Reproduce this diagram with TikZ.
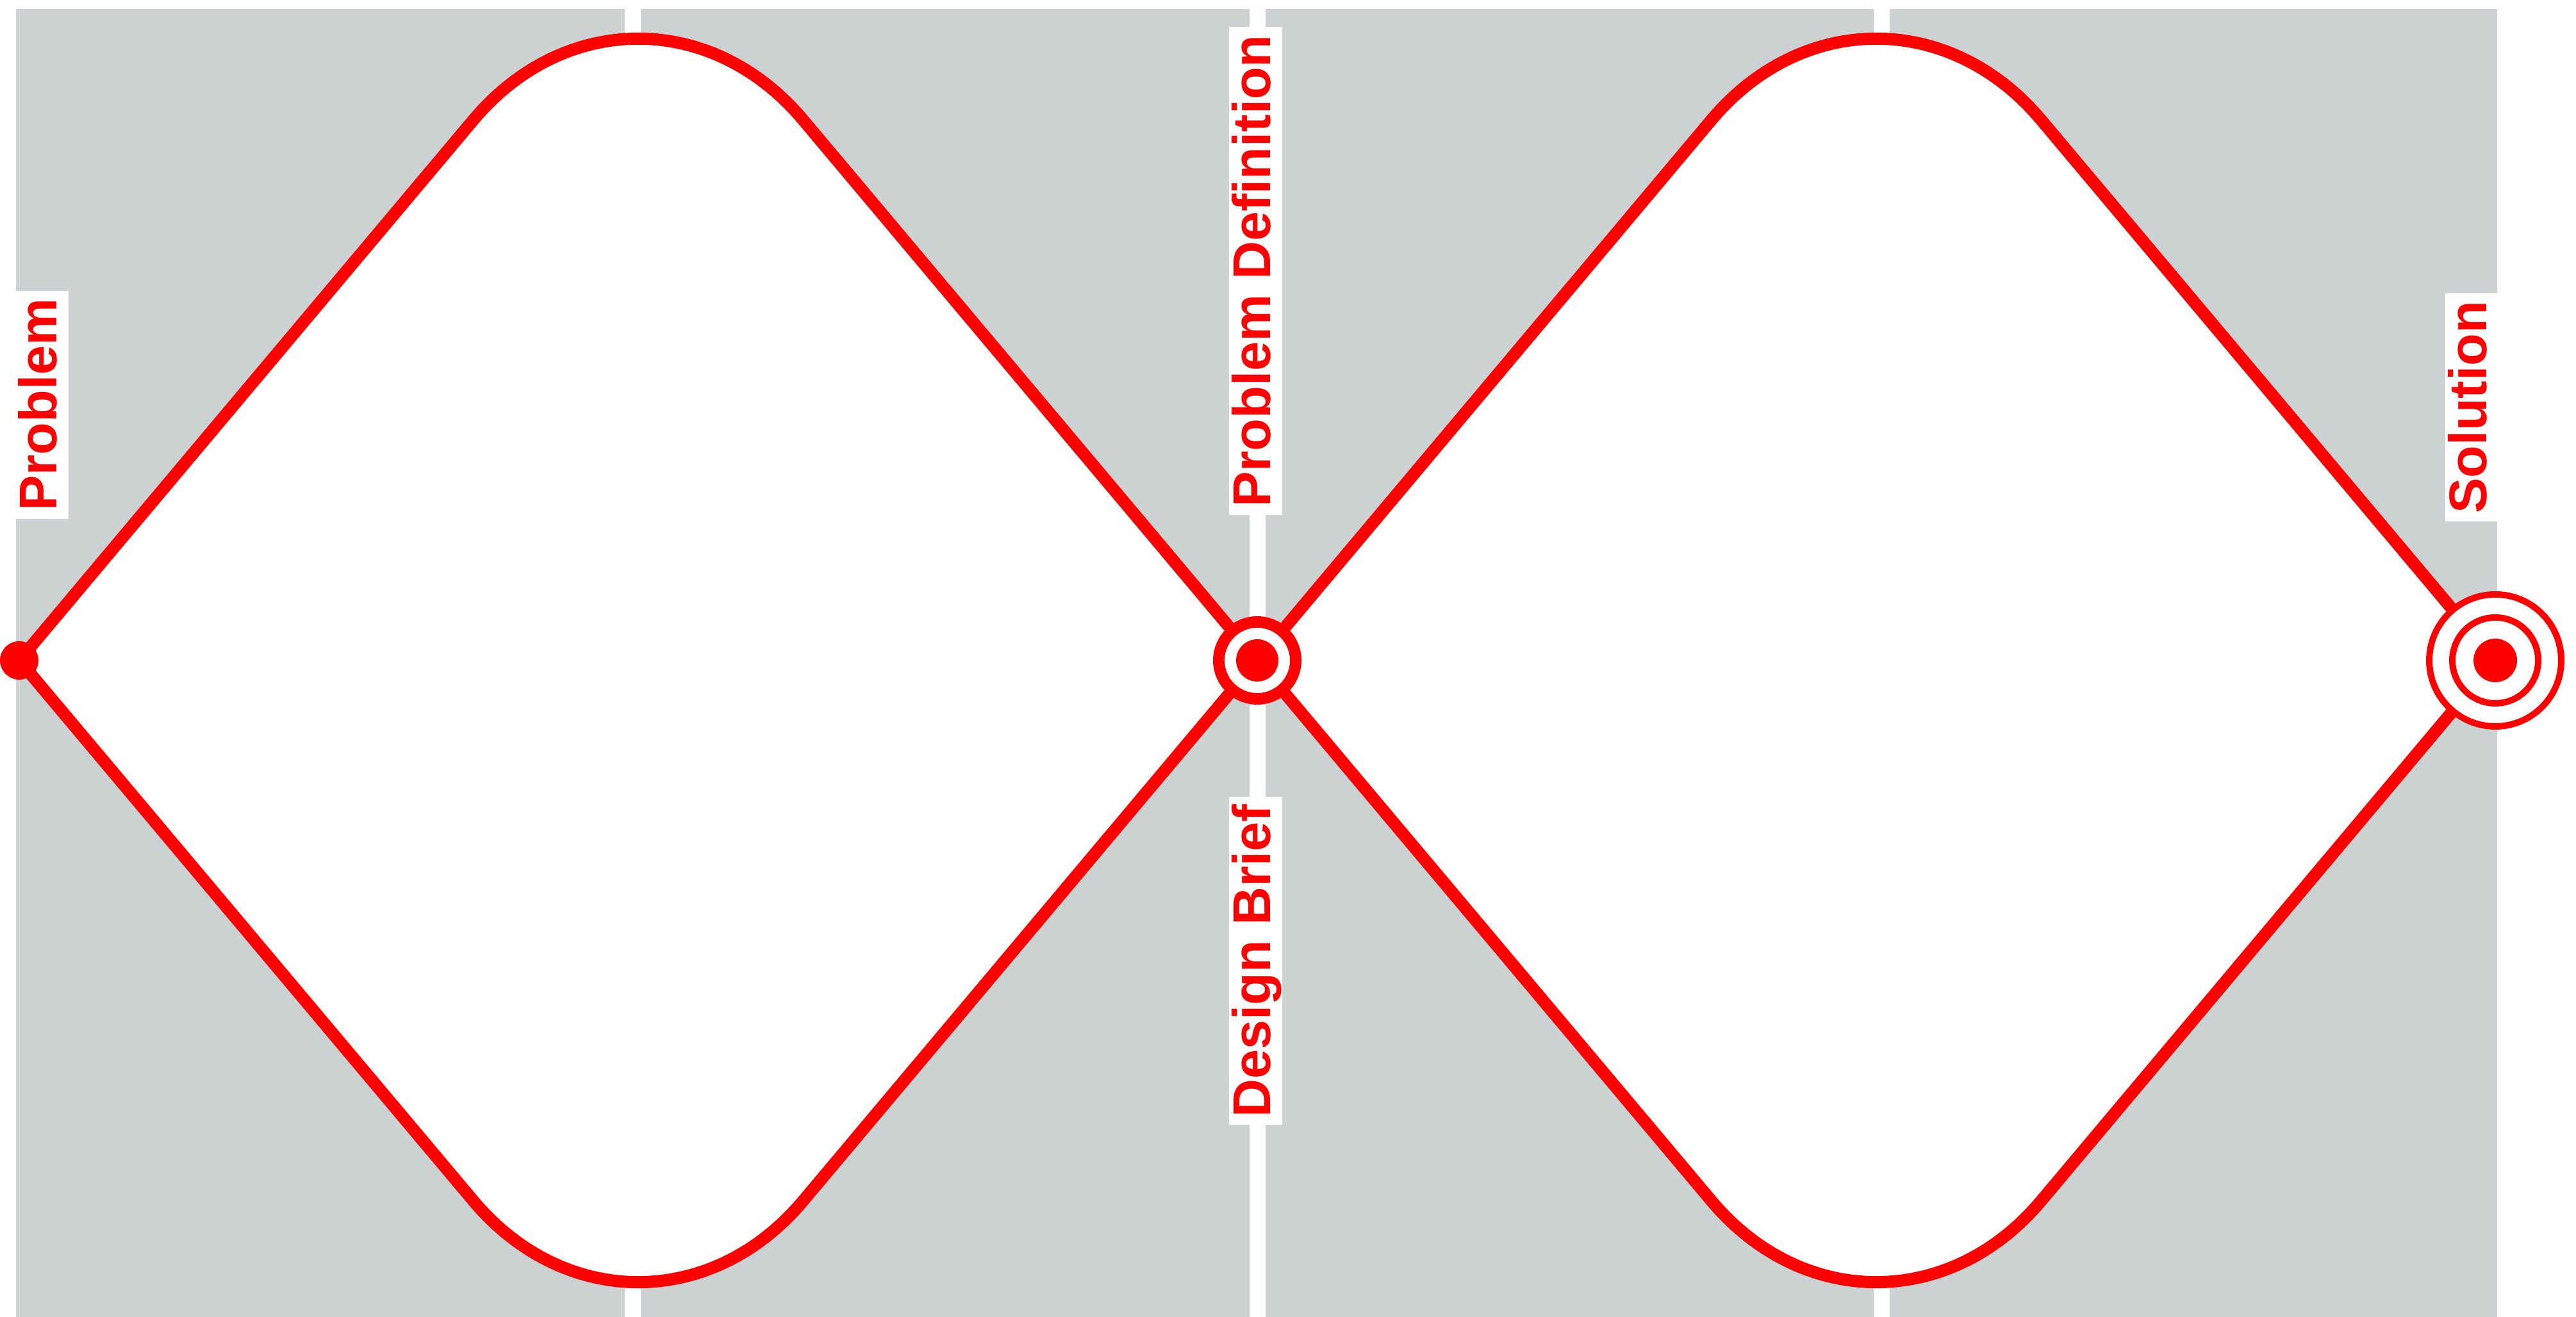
\documentclass[tikz,border=0pt]{standalone}
\usepackage{fontspec}
\newfontfamily\labelfont{Liberation Sans}
\usepackage{tikz}
\usetikzlibrary{calc}

\definecolor{panelgray}{RGB}{204,209,210}
\definecolor{ddred}{RGB}{255,0,0}

\begin{document}
\begin{tikzpicture}[
    outline/.style={draw=ddred, line width=0.19cm, fill=white},
    phase/.style={rotate=90, anchor=base, fill=white, text=ddred,
        font=\labelfont\bfseries\fontsize{23.6}{28}\selectfont,
        text height=0.60cm, text depth=0.15cm, inner xsep=0.12cm, inner ysep=0.04cm},
    dotmark/.style={circle, fill=ddred, inner sep=0pt},
    ringmark/.style={circle, draw=ddred, fill=white, inner sep=0pt}
  ]
        % Page and gray panels
        \useasboundingbox (0,0) rectangle (40.2,20.56);
        \fill[panelgray] (0.25,0) rectangle (38.97,20.42);
        \foreach \x in {9.875, 19.62, 29.36} {
            \fill[white] (\x-0.125,0) rectangle (\x+0.125,20.42);
        }
        % Diamond vertices
        \coordinate (v0) at (0.30,10.25);
        \coordinate (v1) at (19.62,10.25);
        \coordinate (v2) at (38.94,10.25);
        % Two diamonds, rounded at top and bottom
        \foreach \a/\b/\i in {v0/v1/1, v1/v2/2} {
            \coordinate (t\i) at ($(\a)!0.5!(\b)+(0,11.50)$);
            \coordinate (b\i) at ($(\a)!0.5!(\b)-(0,11.50)$);
            \draw[outline] (\a) -- ($(t\i)!4cm!(\a)$)
                .. controls ($(t\i)!1.79cm!(\a)$) and ($(t\i)!1.79cm!(\b)$) .. ($(t\i)!4cm!(\b)$)
                -- (\b) -- ($(b\i)!4cm!(\b)$)
                .. controls ($(b\i)!1.79cm!(\b)$) and ($(b\i)!1.79cm!(\a)$) .. ($(b\i)!4cm!(\a)$)
                -- cycle;
        }
        % Markers
        \node[dotmark, minimum size=0.60cm] (start) at (v0) {};
        \node[ringmark, line width=0.18cm, minimum size=1.20cm] (brief) at (v1) {};
        \node[dotmark, minimum size=0.66cm] (briefdot) at (v1) {};
        \node[ringmark, line width=0.10cm, minimum size=2.06cm] (goal) at (v2) {};
        \node[ringmark, line width=0.10cm, minimum size=1.34cm] (goalring) at (v2) {};
        \node[dotmark, minimum size=0.68cm] (goaldot) at (v2) {};
        % Phase labels
        \node[phase] (problem) at (0.88,14.24) {Problem};
        \node[phase] (definition) at (19.82,16.33) {Problem Definition};
        \node[phase] (designbrief) at (19.82,5.56) {Design Brief};
        \node[phase] (solution) at (38.80,14.20) {Solution};
\end{tikzpicture}
\end{document}
